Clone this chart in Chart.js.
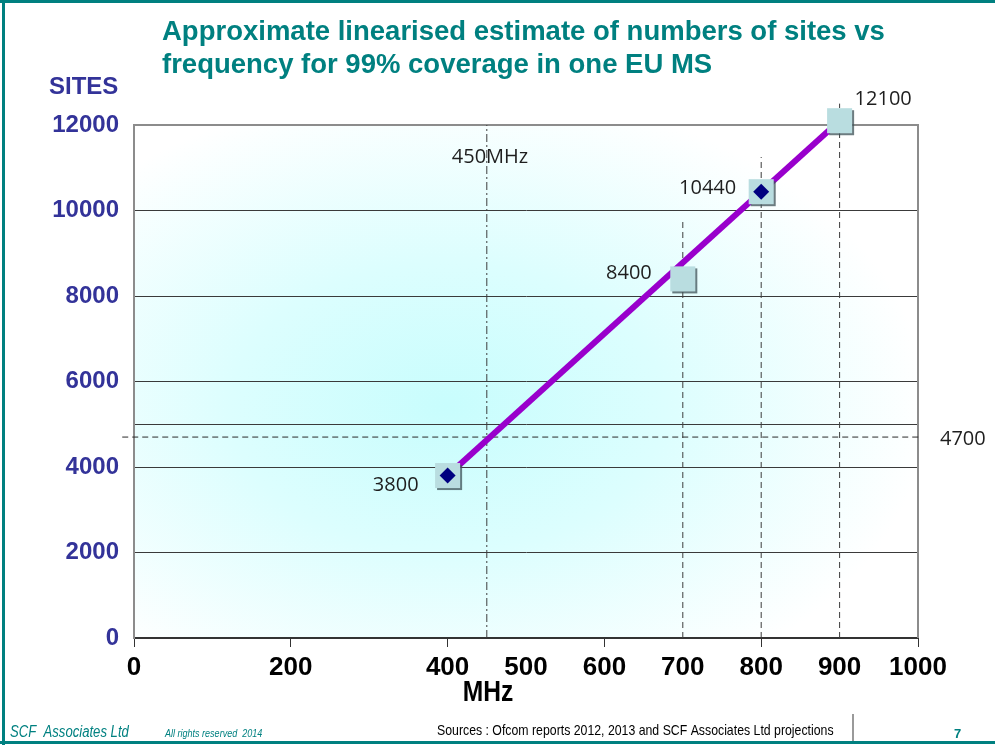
<!DOCTYPE html>
<html>
<head>
<meta charset="utf-8">
<script src="https://cdn.jsdelivr.net/npm/chart.js@4/dist/chart.umd.min.js"></script>
<style>
  html, body { margin: 0; padding: 0; background: #ffffff; }
  #wrap { position: relative; width: 995px; height: 745px; }
</style>
</head>
<body>
<div id="wrap"><canvas id="sites"></canvas></div>
<script>
// Estimated numbers of sites per frequency band
const freqMHz = [400, 700, 800, 900];
const siteCounts = [3800, 8400, 10440, 12100];
// Bands highlighted with a diamond marker
const markedFreqs = [400, 800];
// Vertical guide lines (frequency, and the site count they rise to)
const guideFreqs = [450, 700, 800, 900];
const guideTopSites = [12000, 9800, 11250, 12500];
// Horizontal threshold line
const thresholdSites = 4700;
const thresholdSpanMHz = [-15, 1003];
// Axis ticks
const xTickValues = [0, 200, 400, 500, 600, 700, 800, 900, 1000];
const xTickMarks = [0, 200, 400, 600, 800, 1000];
const yTickValues = [0, 2000, 4000, 6000, 8000, 10000, 12000];
const yExtraGridValues = [5000];

const TEAL = '#008080';
const NAVY_TEXT = '#333399';
const NARROW = 0.82; // horizontal squeeze used for condensed captions

function siteAt(freq) {
  return siteCounts[freqMHz.indexOf(freq)];
}

// draw text squeezed horizontally (condensed look)
function narrowText(ctx, text, x, y, align) {
  ctx.save();
  ctx.translate(x, y);
  ctx.scale(NARROW, 1);
  ctx.textAlign = align || 'left';
  ctx.fillText(text, 0, 0);
  ctx.restore();
}

// Label placement next to each square marker: [dx, dy, align]
const labelPlacement = [
  [-29, 10, 'right'],
  [-31, -6, 'right'],
  [-25, -3, 'right'],
  [15, -21, 'left']
];

const decor = {
  id: 'decor',
  beforeDraw(chart) {
    const { ctx, chartArea: a } = chart;
    ctx.save();
    ctx.fillStyle = '#ffffff';
    ctx.fillRect(0, 0, chart.width, chart.height);
    // soft cyan wash inside the plot area
    const cx = a.left + (a.right - a.left) * 0.40;
    const cy = a.top + (a.bottom - a.top) * 0.55;
    const ry = 320, rx = 480;
    ctx.beginPath();
    ctx.rect(a.left, a.top, a.right - a.left, a.bottom - a.top);
    ctx.clip();
    ctx.translate(cx, cy);
    ctx.scale(rx / ry, 1);
    const g = ctx.createRadialGradient(0, 0, 0, 0, 0, ry);
    g.addColorStop(0, '#c8fdfd');
    g.addColorStop(0.45, '#dcfefe');
    g.addColorStop(1, '#ffffff');
    ctx.fillStyle = g;
    ctx.fillRect(-ry * 2, -ry * 2, ry * 4, ry * 4);
    ctx.restore();
  },
  beforeDatasetsDraw(chart) {
    const { ctx, chartArea: a } = chart;
    ctx.save();
    ctx.strokeStyle = '#8c8c8c';
    ctx.lineWidth = 2;
    ctx.beginPath();
    ctx.moveTo(a.right, a.top - 1);
    ctx.lineTo(a.right, a.bottom);
    ctx.stroke();
    ctx.restore();
  },
  beforeDatasetDraw(chart, args) {
    if (chart.data.datasets[args.index].id === 'squares') {
      const ctx = chart.ctx;
      ctx.save();
      ctx.shadowColor = 'rgba(60,80,85,0.75)';
      ctx.shadowOffsetX = 2;
      ctx.shadowOffsetY = 2;
      ctx.shadowBlur = 0;
    }
  },
  afterDatasetDraw(chart, args) {
    if (chart.data.datasets[args.index].id === 'squares') {
      chart.ctx.restore();
    }
  },
  afterDatasetsDraw(chart) {
    const { ctx, chartArea: a, scales: { x, y } } = chart;
    ctx.save();
    ctx.fillStyle = '#1e1e1e';
    ctx.font = '20px "Open Sans"';
    ctx.textBaseline = 'middle';
    // values beside the square markers
    const meta = chart.getDatasetMeta(chart.data.datasets.findIndex(d => d.id === 'squares'));
    meta.data.forEach((pt, i) => {
      const [dx, dy, align] = labelPlacement[i];
      ctx.textAlign = align;
      ctx.fillText(String(siteCounts[i]), pt.x + dx, pt.y + dy);
    });
    // guide labels
    ctx.textAlign = 'left';
    ctx.fillText(guideFreqs[0] + 'MHz', x.getPixelForValue(guideFreqs[0]) - 35, a.top + 32);
    ctx.fillText(String(thresholdSites), a.right + 22, y.getPixelForValue(thresholdSites) + 2);
    ctx.restore();
  },
  afterDraw(chart) {
    const { ctx } = chart;
    ctx.save();
    // title
    ctx.fillStyle = TEAL;
    ctx.font = 'bold 27.5px "Liberation Sans"';
    ctx.textAlign = 'left';
    ctx.textBaseline = 'alphabetic';
    ctx.fillText('Approximate linearised estimate of numbers of sites vs', 162, 40);
    ctx.fillText('frequency for 99% coverage in one EU MS', 162, 73);
    // axis titles
    ctx.fillStyle = NAVY_TEXT;
    ctx.font = 'bold 24px "Liberation Sans"';
    ctx.fillText('SITES', 49, 94);
    ctx.fillStyle = '#000000';
    ctx.font = 'bold 30px "Liberation Sans"';
    narrowText(ctx, 'MHz', 488, 701, 'center');
    // footer
    ctx.fillStyle = TEAL;
    ctx.font = 'italic 16px "Liberation Sans"';
    narrowText(ctx, 'SCF  Associates Ltd', 10, 737);
    ctx.font = 'italic 11px "Liberation Sans"';
    narrowText(ctx, 'All rights reserved  2014', 165, 737);
    ctx.fillStyle = '#000000';
    ctx.font = '15px "Liberation Sans"';
    narrowText(ctx, 'Sources : Ofcom reports 2012, 2013 and SCF Associates Ltd projections', 437, 735);
    ctx.fillStyle = TEAL;
    ctx.font = 'bold 13px "Liberation Sans"';
    ctx.textAlign = 'left';
    ctx.fillText('7', 954, 738);
    ctx.strokeStyle = '#9a9a9a';
    ctx.lineWidth = 2;
    ctx.beginPath();
    ctx.moveTo(853, 714);
    ctx.lineTo(853, 741);
    ctx.stroke();
    // slide frame
    ctx.fillStyle = TEAL;
    ctx.fillRect(0, 0, chart.width, 3);
    ctx.fillRect(2, 0, 3, chart.height);
    ctx.fillRect(0, 741, chart.width, 3);
    ctx.restore();
  }
};

const guideDatasets = guideFreqs.map((f, i) => ({
  id: 'guide' + f,
  data: [{ x: f, y: 0 }, { x: f, y: guideTopSites[i] }],
  borderColor: '#3c3c3c',
  borderWidth: 1,
  borderDash: i === 0 ? [8, 3, 2, 3] : [6, 4],
  pointRadius: 0,
  showLine: true,
  clip: false,
  order: 4
}));

const chart = new Chart(document.getElementById('sites'), {
  type: 'line',
  data: {
    datasets: [
      {
        id: 'diamonds',
        data: markedFreqs.map(f => ({ x: f, y: siteAt(f) })),
        showLine: false,
        pointStyle: 'rectRot',
        pointRadius: 8,
        pointBackgroundColor: '#000080',
        pointBorderColor: '#000080',
        pointBorderWidth: 0,
        clip: false,
        order: 0
      },
      {
        id: 'squares',
        data: freqMHz.map((f, i) => ({ x: f, y: siteCounts[i] })),
        showLine: false,
        pointStyle: 'rect',
        pointRadius: 17.7,
        pointBackgroundColor: '#b9dde0',
        pointBorderColor: '#b9dde0',
        pointBorderWidth: 0,
        clip: false,
        order: 1
      },
      {
        id: 'linear',
        data: [
          { x: freqMHz[0], y: siteCounts[0] },
          { x: freqMHz[freqMHz.length - 1], y: siteCounts[siteCounts.length - 1] }
        ],
        borderColor: '#9900cc',
        borderWidth: 6,
        pointRadius: 0,
        showLine: true,
        clip: false,
        order: 2
      },
      {
        id: 'threshold',
        data: thresholdSpanMHz.map(f => ({ x: f, y: thresholdSites })),
        borderColor: '#2a2a2a',
        borderWidth: 1,
        borderDash: [6, 4],
        pointRadius: 0,
        showLine: true,
        clip: false,
        order: 3
      },
      ...guideDatasets
    ]
  },
  options: {
    responsive: true,
    maintainAspectRatio: false,
    animation: false,
    devicePixelRatio: 1,
    layout: { padding: { top: 125, right: 77, bottom: 0, left: 0 } },
    plugins: { legend: { display: false }, tooltip: { enabled: false } },
    elements: { line: { tension: 0 } },
    scales: {
      x: {
        type: 'linear',
        min: 0,
        max: 1000,
        afterBuildTicks: s => { s.ticks = xTickValues.map(v => ({ value: v })); },
        afterFit: s => { s.height = 107; },
        grid: {
          drawOnChartArea: false,
          drawTicks: true,
          tickLength: 9,
          color: c => (c.tick && xTickMarks.includes(c.tick.value)) ? '#333333' : 'rgba(0,0,0,0)',
          lineWidth: 1
        },
        border: { display: true, color: '#333333', width: 2 },
        ticks: {
          autoSkip: false,
          maxRotation: 0,
          padding: 5,
          color: '#000000',
          font: { family: '"Liberation Sans"', weight: 'bold', size: 26 },
          callback: v => String(v)
        }
      },
      y: {
        type: 'linear',
        min: 0,
        max: 12000,
        afterBuildTicks: s => {
          s.ticks = yTickValues.concat(yExtraGridValues).sort((p, q) => p - q).map(v => ({ value: v }));
        },
        afterFit: s => { s.width = 134; },
        grid: {
          drawTicks: false,
          color: c => (c.tick && c.tick.value === 12000) ? '#8c8c8c' : '#3a3a3a',
          lineWidth: c => (c.tick && c.tick.value === 12000) ? 2 : 1
        },
        border: { display: true, color: '#8c8c8c', width: 2 },
        ticks: {
          padding: 15,
          color: NAVY_TEXT,
          font: { family: '"Liberation Sans"', weight: 'bold', size: 24 },
          callback: v => yTickValues.includes(v) ? String(v) : ''
        }
      }
    }
  },
  plugins: [decor]
});
</script>
</body>
</html>
